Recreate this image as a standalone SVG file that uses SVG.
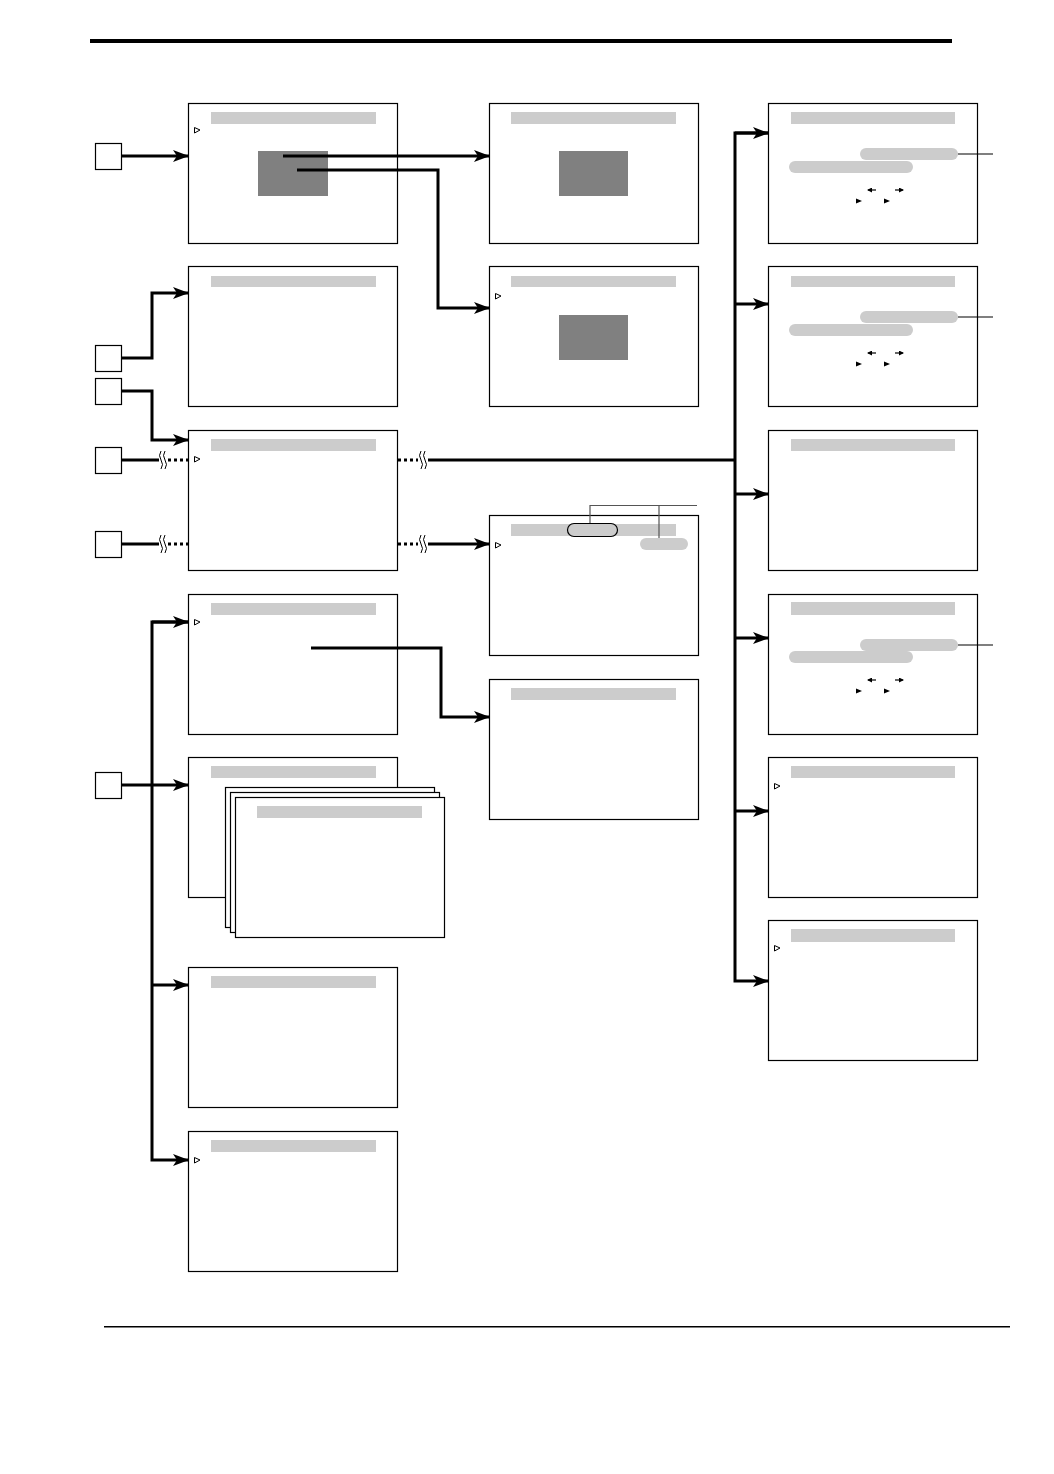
<svg xmlns="http://www.w3.org/2000/svg" width="1054" height="1474" viewBox="0 0 1054 1474">
<style>
.scr{fill:#fff;stroke:#000;stroke-width:1.2}
.bar{fill:#ccc}
.dark{fill:#808080}
.key{fill:#fff;stroke:#000;stroke-width:1.2}
.tri{fill:#fff;stroke:#000;stroke-width:1}
.pill{fill:#ccc}
.con{fill:none;stroke:#000;stroke-width:3}
.dot{fill:none;stroke:#000;stroke-width:3;stroke-dasharray:3 3}
.sq{fill:none;stroke:#000;stroke-width:1}
.thin{fill:none;stroke:#000;stroke-width:1.2}
.callout{fill:none;stroke:#555;stroke-width:1.2}
</style>
<defs>
<marker id="ah" markerUnits="userSpaceOnUse" markerWidth="16" markerHeight="12" refX="15" refY="6" orient="auto">
<path d="M0,0 L16,6 L0,12 L4,6 Z" fill="#000"/>
</marker>
<marker id="sa" markerUnits="userSpaceOnUse" markerWidth="5" markerHeight="5" refX="4" refY="2.5" orient="auto">
<path d="M0,0 L5,2.5 L0,5 Z" fill="#000"/>
</marker>
</defs>
<rect width="1054" height="1474" fill="#fff"/>
<rect x="90" y="39" width="862" height="4" fill="#000"/>
<rect x="104" y="1326" width="906" height="1.5" fill="#000"/>

<g id="keys">
<rect id="key1" class="key" x="95.500" y="143.500" width="26" height="26"/>
<rect id="key2" class="key" x="95.500" y="345.500" width="26" height="26"/>
<rect id="key3" class="key" x="95.500" y="378.500" width="26" height="26"/>
<rect id="key4" class="key" x="95.500" y="447.500" width="26" height="26"/>
<rect id="key5" class="key" x="95.500" y="531.500" width="26" height="26"/>
<rect id="key6" class="key" x="95.500" y="772.500" width="26" height="26"/>
</g>

<!-- Column 1 -->
<g id="s1a"><rect class="scr" x="188.500" y="103.500" width="209" height="140"/><rect class="bar" x="211" y="112" width="165" height="12"/><path class="tri" d="M194.500,127.500 L200,130 L194.500,133 Z"/><rect class="dark" x="258" y="151" width="70" height="45"/></g>
<g id="s1b"><rect class="scr" x="188.500" y="266.500" width="209" height="140"/><rect class="bar" x="211" y="276" width="165" height="11"/></g>
<g id="s1c"><rect class="scr" x="188.500" y="430.500" width="209" height="140"/><rect class="bar" x="211" y="439" width="165" height="12"/><path class="tri" d="M194.500,456.500 L200,459 L194.500,462 Z"/></g>
<g id="s1d"><rect class="scr" x="188.500" y="594.500" width="209" height="140"/><rect class="bar" x="211" y="603" width="165" height="12"/><path class="tri" d="M194.500,619.500 L200,622 L194.500,625 Z"/></g>
<g id="s1e"><rect class="scr" x="188.500" y="757.500" width="209" height="140"/><rect class="bar" x="211" y="766" width="165" height="12"/></g>
<g id="s1stack">
<rect class="scr" x="225.500" y="787.500" width="209" height="140"/>
<rect class="scr" x="230.500" y="792.500" width="209" height="140"/>
<rect class="scr" x="235.500" y="797.500" width="209" height="140"/>
<rect class="bar" x="257" y="806" width="165" height="12"/>
</g>
<g id="s1f"><rect class="scr" x="188.500" y="967.500" width="209" height="140"/><rect class="bar" x="211" y="976" width="165" height="12"/></g>
<g id="s1g"><rect class="scr" x="188.500" y="1131.500" width="209" height="140"/><rect class="bar" x="211" y="1140" width="165" height="12"/><path class="tri" d="M194.500,1157.500 L200,1160 L194.500,1163 Z"/></g>

<!-- Column 2 -->
<g id="s2a"><rect class="scr" x="489.500" y="103.500" width="209" height="140"/><rect class="bar" x="511" y="112" width="165" height="12"/><rect class="dark" x="559" y="151" width="69" height="45"/></g>
<g id="s2b"><rect class="scr" x="489.500" y="266.500" width="209" height="140"/><rect class="bar" x="511" y="276" width="165" height="11"/><path class="tri" d="M495.500,293.500 L501,296 L495.500,299 Z"/><rect class="dark" x="559" y="315" width="69" height="45"/></g>
<g id="s2c"><rect class="scr" x="489.500" y="515.500" width="209" height="140"/><rect class="bar" x="511" y="524" width="165" height="12"/><rect x="567.500" y="523.500" width="50" height="13" rx="6.500" fill="#ccc" stroke="#000" stroke-width="1.2"/><rect class="pill" x="640" y="538" width="48" height="12" rx="6"/><path class="tri" d="M495.500,542.500 L501,545 L495.500,548 Z"/>
<path class="callout" d="M590,523 V505.500 H697 M659,505.500 V538"/></g>
<g id="s2d"><rect class="scr" x="489.500" y="679.500" width="209" height="140"/><rect class="bar" x="511" y="688" width="165" height="12"/></g>

<!-- Column 3 -->
<g id="s3a"><rect class="scr" x="768.500" y="103.500" width="209" height="140"/><rect class="bar" x="791" y="112" width="164" height="12"/>
<rect class="pill" x="789" y="161" width="124" height="12" rx="6"/><rect class="pill" x="860" y="148" width="98" height="12" rx="6"/>
<path class="thin" d="M958,154 H993"/>
<path class="thin" d="M876,190 H868" marker-end="url(#sa)"/><path class="thin" d="M895,190 H903" marker-end="url(#sa)"/>
<path d="M856,198.500 L862,201 L856,203.500 Z"/><path d="M884,198.500 L890,201 L884,203.500 Z"/></g>
<g id="s3b"><rect class="scr" x="768.500" y="266.500" width="209" height="140"/><rect class="bar" x="791" y="276" width="164" height="11"/>
<rect class="pill" x="789" y="324" width="124" height="12" rx="6"/><rect class="pill" x="860" y="311" width="98" height="12" rx="6"/>
<path class="thin" d="M958,317 H993"/>
<path class="thin" d="M876,353 H868" marker-end="url(#sa)"/><path class="thin" d="M895,353 H903" marker-end="url(#sa)"/>
<path d="M856,361.500 L862,364 L856,366.500 Z"/><path d="M884,361.500 L890,364 L884,366.500 Z"/></g>
<g id="s3c"><rect class="scr" x="768.500" y="430.500" width="209" height="140"/><rect class="bar" x="791" y="439" width="164" height="12"/></g>
<g id="s3d"><rect class="scr" x="768.500" y="594.500" width="209" height="140"/><rect class="bar" x="791" y="602" width="164" height="13"/>
<rect class="pill" x="789" y="651" width="124" height="12" rx="6"/><rect class="pill" x="860" y="639" width="98" height="12" rx="6"/>
<path class="thin" d="M958,645 H993"/>
<path class="thin" d="M876,680 H868" marker-end="url(#sa)"/><path class="thin" d="M895,680 H903" marker-end="url(#sa)"/>
<path d="M856,688.500 L862,691 L856,693.500 Z"/><path d="M884,688.500 L890,691 L884,693.500 Z"/></g>
<g id="s3e"><rect class="scr" x="768.500" y="757.500" width="209" height="140"/><rect class="bar" x="791" y="766" width="164" height="12"/><path class="tri" d="M774.500,783.500 L780,786 L774.500,789 Z"/></g>
<g id="s3f"><rect class="scr" x="768.500" y="920.500" width="209" height="140"/><rect class="bar" x="791" y="929" width="164" height="13"/><path class="tri" d="M774.500,945.500 L780,948 L774.500,951 Z"/></g>

<g id="connectors">
<path class="con" d="M122,156 H188" marker-end="url(#ah)"/>
<path class="con" d="M122,358 H152 V293 H188" marker-end="url(#ah)"/>
<path class="con" d="M122,391 H152 V440 H188" marker-end="url(#ah)"/>
<path class="con" d="M122,460 H159"/>
<path class="dot" d="M168,460 H188"/>
<path class="con" d="M122,544 H159"/>
<path class="dot" d="M168,544 H188"/>
<path class="dot" d="M398,460 H418"/>
<path class="con" d="M428,460 H735"/>
<path class="dot" d="M398,544 H418"/>
<path class="con" d="M428,544 H489" marker-end="url(#ah)"/>
<g class="sq">
<path d="M161,451 q-3,4.500 0,9 q3,4.500 0,9"/><path d="M165,451 q-3,4.500 0,9 q3,4.500 0,9"/>
<path d="M161,535 q-3,4.500 0,9 q3,4.500 0,9"/><path d="M165,535 q-3,4.500 0,9 q3,4.500 0,9"/>
<path d="M421,451 q-3,4.500 0,9 q3,4.500 0,9"/><path d="M425,451 q-3,4.500 0,9 q3,4.500 0,9"/>
<path d="M421,535 q-3,4.500 0,9 q3,4.500 0,9"/><path d="M425,535 q-3,4.500 0,9 q3,4.500 0,9"/>
</g>
<path class="con" d="M283,156 H489" marker-end="url(#ah)"/>
<path class="con" d="M297,170 H438 V308 H489" marker-end="url(#ah)"/>
<path class="con" d="M311,648 H441 V717 H489" marker-end="url(#ah)"/>
<path class="con" d="M768,133 H735 V981 H768" marker-end="url(#ah)"/>
<path class="con" d="M735,304 H768" marker-end="url(#ah)"/>
<path class="con" d="M735,494 H768" marker-end="url(#ah)"/>
<path class="con" d="M735,638 H768" marker-end="url(#ah)"/>
<path class="con" d="M735,811 H768" marker-end="url(#ah)"/>
<path class="con" d="M188,622 H152 V1160 H188" marker-end="url(#ah)"/>
<path class="con" d="M735,133 H768" marker-end="url(#ah)"/>
<path class="con" d="M152,622 H188" marker-end="url(#ah)"/>
<path class="con" d="M122,785 H188" marker-end="url(#ah)"/>
<path class="con" d="M152,985 H188" marker-end="url(#ah)"/>
</g>
</svg>
